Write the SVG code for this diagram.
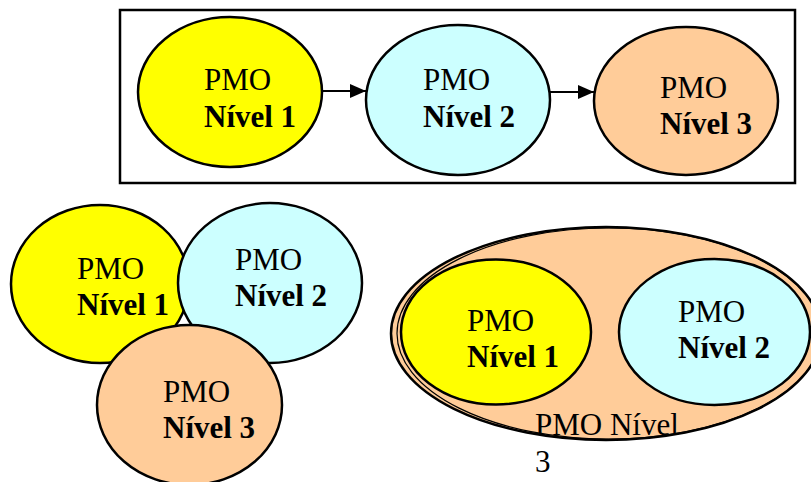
<svg xmlns="http://www.w3.org/2000/svg" width="811" height="482" viewBox="0 0 811 482">
<style>
.n{stroke:#000;stroke-width:2.5}
.y{fill:#FFFF00}.c{fill:#CCFFFF}.p{fill:#FFCC99}
text{font-family:"Liberation Serif","Times New Roman",serif;font-size:31px;fill:#000}
.b{font-weight:bold}
.e{stroke:#000;stroke-width:2}
</style>
<defs>
<marker id="ah" viewBox="0 0 16 14" refX="16" refY="7" markerWidth="16" markerHeight="14" markerUnits="userSpaceOnUse" orient="auto">
<path d="M0,0 L16,7 L0,14 Z" fill="#000"/>
</marker>
</defs>
<rect x="120" y="10" width="675" height="173" fill="#fff" stroke="#000" stroke-width="2.5"/>
<g id="connectors">
<line class="e" x1="322" y1="91" x2="366" y2="91" marker-end="url(#ah)"/>
<line class="e" x1="550" y1="92" x2="594" y2="92" marker-end="url(#ah)"/>
</g>
<g id="top1">
<ellipse class="n y" cx="230" cy="92" rx="92" ry="75"/>
<text x="204" y="90">PMO</text>
<text class="b" x="204" y="127">Nível 1</text>
</g>
<g id="top2">
<ellipse class="n c" cx="458" cy="100" rx="92" ry="75"/>
<text x="423" y="90">PMO</text>
<text class="b" x="423" y="127">Nível 2</text>
</g>
<g id="top3">
<ellipse class="n p" cx="686" cy="101" rx="92" ry="74"/>
<text x="660" y="98">PMO</text>
<text class="b" x="660" y="134">Nível 3</text>
</g>
<g id="left1">
<ellipse class="n y" cx="100" cy="284" rx="89" ry="79"/>
<text x="77" y="279">PMO</text>
<text class="b" x="77" y="315">Nível 1</text>
</g>
<g id="left2">
<ellipse class="n c" cx="270" cy="283" rx="92" ry="80"/>
<text x="235" y="270">PMO</text>
<text class="b" x="235" y="306">Nível 2</text>
</g>
<g id="left3">
<ellipse class="n p" cx="189.5" cy="405" rx="92.5" ry="80"/>
<text x="163" y="402">PMO</text>
<text class="b" x="163" y="438">Nível 3</text>
</g>
<g id="right3">
<ellipse class="n p" cx="606" cy="333.5" rx="215" ry="106.5"/>
<ellipse cx="609" cy="333.5" rx="212" ry="105.5" fill="none" stroke="#000" stroke-width="1.2"/>
<text x="535" y="435">PMO Nível</text>
<text x="535" y="472">3</text>
</g>
<g id="right1">
<ellipse class="n y" cx="496" cy="332" rx="95" ry="72.5"/>
<text x="467" y="331">PMO</text>
<text class="b" x="467" y="367">Nível 1</text>
</g>
<g id="right2">
<ellipse class="n c" cx="714.5" cy="332" rx="95.5" ry="73"/>
<text x="678" y="322">PMO</text>
<text class="b" x="678" y="358">Nível 2</text>
</g>
</svg>
